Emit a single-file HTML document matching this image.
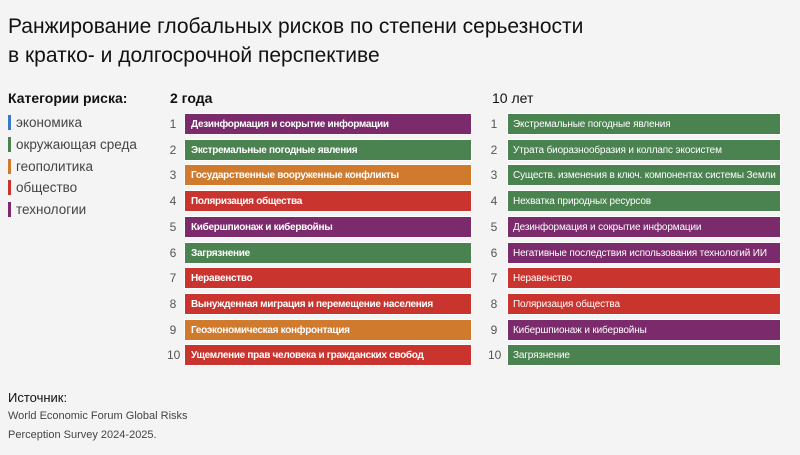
<!DOCTYPE html><html><head><meta charset="utf-8"><style>
body{margin:0;width:800px;height:455px;background:#f4f4f4;font-family:"Liberation Sans",sans-serif;position:relative;overflow:hidden;color:#111}
.a{position:absolute;white-space:nowrap}
.bar{position:absolute;height:22px;line-height:22px;color:#fff;font-size:10px;padding-left:6px;box-sizing:border-box;border:1px solid #fff;white-space:nowrap;overflow:hidden}
.n{position:absolute;font-size:12px;color:#555;width:12px;text-align:center}
.P{background:#7b2a6b}.G{background:#4a8250}.O{background:#d07a2e}.R{background:#c9352e}
.lg{position:absolute;left:8px;font-size:13.5px;color:#444;border-left:3px solid;padding-left:5px;line-height:15px}
</style></head><body>
<div class="a" style="left:8px;top:12px;font-size:21px;line-height:29px">Ранжирование глобальных рисков по степени серьезности<br>в кратко- и долгосрочной перспективе</div>
<div class="a" style="left:8px;top:90px;font-size:14px;font-weight:bold">Категории риска:</div>
<div class="lg" style="top:115px;border-color:#3a78c8">экономика</div>
<div class="lg" style="top:137px;border-color:#4a8250">окружающая среда</div>
<div class="lg" style="top:159px;border-color:#d07a2e">геополитика</div>
<div class="lg" style="top:180px;border-color:#c9352e">общество</div>
<div class="lg" style="top:202px;border-color:#7b2a6b">технологии</div>
<div class="a" style="left:170px;top:90px;font-size:14px;font-weight:bold">2 года</div>
<div class="a" style="left:492px;top:90px;font-size:14px">10 лет</div>
<div id="c"></div>
<div class="a" style="left:8px;top:390px;font-size:13px">Источник:</div>
<div class="a" style="left:8px;top:407px;font-size:11px;line-height:19px;color:#444">World Economic Forum Global Risks<br>Perception Survey 2024-2025.</div>
<script>
var L=[["P","Дезинформация и сокрытие информации"],["G","Экстремальные погодные явления"],["O","Государственные вооруженные конфликты"],["R","Поляризация общества"],["P","Кибершпионаж и кибервойны"],["G","Загрязнение"],["R","Неравенство"],["R","Вынужденная миграция и перемещение населения"],["O","Геоэкономическая конфронтация"],["R","Ущемление прав человека и гражданских свобод"]];
var Rr=[["G","Экстремальные погодные явления"],["G","Утрата биоразнообразия и коллапс экосистем"],["G","Существ. изменения в ключ. компонентах системы Земли"],["G","Нехватка природных ресурсов"],["P","Дезинформация и сокрытие информации"],["P","Негативные последствия использования технологий ИИ"],["R","Неравенство"],["R","Поляризация общества"],["P","Кибершпионаж и кибервойны"],["G","Загрязнение"]];
var h="";
for(var i=0;i<10;i++){var y=113+i*25.7;
h+='<div class="n" style="left:167px;top:'+(y+4)+'px">'+(i+1)+'</div><div class="bar '+L[i][0]+'" style="left:184px;width:288px;top:'+y+'px;font-weight:bold;letter-spacing:-0.3px">'+L[i][1]+'</div>';
h+='<div class="n" style="left:488px;top:'+(y+4)+'px">'+(i+1)+'</div><div class="bar '+Rr[i][0]+'" style="left:507px;width:274px;top:'+y+'px;letter-spacing:-0.15px;padding-left:5px">'+Rr[i][1]+'</div>';}
document.getElementById("c").innerHTML=h;
</script>
</body></html>
